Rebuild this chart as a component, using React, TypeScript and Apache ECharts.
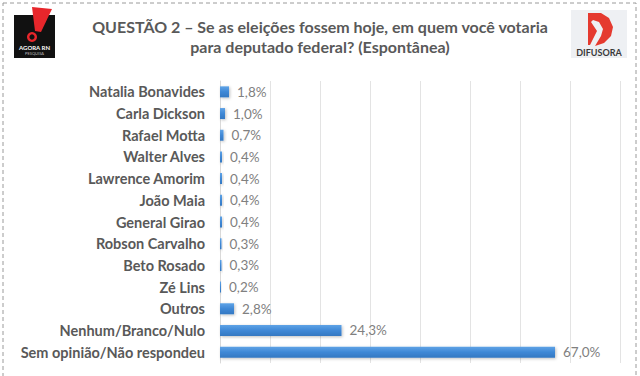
import React, { useEffect, useRef } from "react";
import * as echarts from "echarts";

const categories = [
  "Natalia Bonavides",
  "Carla Dickson",
  "Rafael Motta",
  "Walter Alves",
  "Lawrence Amorim",
  "João Maia",
  "General Girao",
  "Robson Carvalho",
  "Beto Rosado",
  "Zé Lins",
  "Outros",
  "Nenhum/Branco/Nulo",
  "Sem opinião/Não respondeu",
];
const values = [1.8, 1.0, 0.7, 0.4, 0.4, 0.4, 0.4, 0.3, 0.3, 0.2, 2.8, 24.3, 67.0];
const titleLines = [
  "QUESTÃO 2 – Se as eleições fossem hoje, em quem você votaria",
  "para deputado federal? (Espontânea)",
];

const FONT = "Lato, 'Open Sans', sans-serif";

export default function App() {
  const ref = useRef<HTMLDivElement>(null);
  useEffect(() => {
    if (!ref.current) return;
    const chart = echarts.init(ref.current, undefined, { renderer: "svg" });
    chart.setOption({
      animation: false,
      backgroundColor: "#ffffff",
      grid: { left: 220, right: 20, top: 81, bottom: 13, containLabel: false },
      xAxis: {
        type: "value",
        min: 0,
        max: 80,
        interval: 10,
        axisLabel: { show: false },
        axisLine: { show: false },
        axisTick: { show: false },
        splitLine: { show: true, lineStyle: { color: "#e3e3e3", width: 1 } },
      },
      yAxis: {
        type: "category",
        inverse: true,
        data: categories,
        axisLine: { show: true, lineStyle: { color: "#d9d9d9" } },
        axisTick: { show: false },
        axisLabel: {
          color: "#595959",
          fontFamily: FONT,
          fontWeight: "bold",
          fontSize: 14.5,
          margin: 15,
        },
      },
      series: [
        {
          type: "bar",
          data: values,
          barWidth: 11,
          itemStyle: {
            color: new echarts.graphic.LinearGradient(0, 0, 0, 1, [
              { offset: 0, color: "#5fa3e6" },
              { offset: 0.5, color: "#3f88d6" },
              { offset: 1, color: "#3478c2" },
            ]),
            shadowColor: "rgba(0,0,0,0.25)",
            shadowBlur: 3,
            shadowOffsetX: 1,
            shadowOffsetY: 1,
          },
          label: {
            show: true,
            position: "right",
            distance: 8,
            color: "#808080",
            fontFamily: FONT,
            fontSize: 13.5,
            formatter: (p: any) => p.value.toFixed(1).replace(".", ",") + "%",
          },
        },
      ],
      graphic: [
        {
          type: "rect",
          shape: { x: 3, y: 3, width: 633, height: 380 },
          style: { fill: "none", stroke: "#9a9a9a", lineWidth: 1, lineDash: [4, 3] },
          silent: true,
        },
        {
          type: "text",
          x: 320,
          y: 18,
          style: {
            text: titleLines[0],
            fill: "#595959",
            font: `bold 16px ${FONT}`,
            textAlign: "center",
          },
        },
        {
          type: "text",
          x: 320,
          y: 38,
          style: {
            text: titleLines[1],
            fill: "#595959",
            font: `bold 16px ${FONT}`,
            textAlign: "center",
          },
        },
        // Left logo (AGORA RN Pesquisa)
        {
          type: "group",
          x: 14,
          y: 7,
          children: [
            { type: "rect", shape: { x: 0, y: 8, width: 41, height: 43 }, style: { fill: "#111111" } },
            {
              type: "polygon",
              shape: { points: [[18, 0], [38, 2], [27, 25], [21, 24]] },
              style: { fill: "#e8262b" },
            },
            { type: "circle", shape: { cx: 18, cy: 30, r: 5 }, style: { fill: "#e8262b" } },
            { type: "circle", shape: { cx: 18, cy: 30, r: 2.6 }, style: { fill: "#111111" } },
            {
              type: "text",
              x: 20.5,
              y: 37.5,
              style: {
                text: "AGORA RN",
                fill: "#ffffff",
                font: `bold 6px ${FONT}`,
                textAlign: "center",
                textVerticalAlign: "top",
              },
            },
            {
              type: "text",
              x: 20.5,
              y: 44.5,
              style: {
                text: "PESQUISA",
                fill: "#bbbbbb",
                font: `4px ${FONT}`,
                textAlign: "center",
                textVerticalAlign: "top",
              },
            },
          ],
        },
        // Right logo (Difusora)
        {
          type: "group",
          x: 571,
          y: 10,
          children: [
            { type: "rect", shape: { x: 0, y: 0, width: 56, height: 48 }, style: { fill: "#eef0f3" } },
            {
              type: "polygon",
              shape: {
                points: [
                  [17, 3], [30, 3], [38, 8], [42, 17], [40, 26], [33, 33], [24, 36],
                  [30, 26], [32, 19], [28, 12], [22, 10], [20, 12], [26, 21], [19, 35], [17, 35],
                ],
              },
              style: { fill: "#e53a2f" },
            },
            {
              type: "text",
              x: 28,
              y: 38,
              style: { text: "DIFUSORA", fill: "#3a3a3a", font: `bold 9px ${FONT}`, textAlign: "center" },
            },
          ],
        },
      ],
    });
    return () => chart.dispose();
  }, []);
  return (
    <div
      ref={ref}
      style={{ position: "absolute", left: 0, top: 0, width: 640, height: 376 }}
    />
  );
}
